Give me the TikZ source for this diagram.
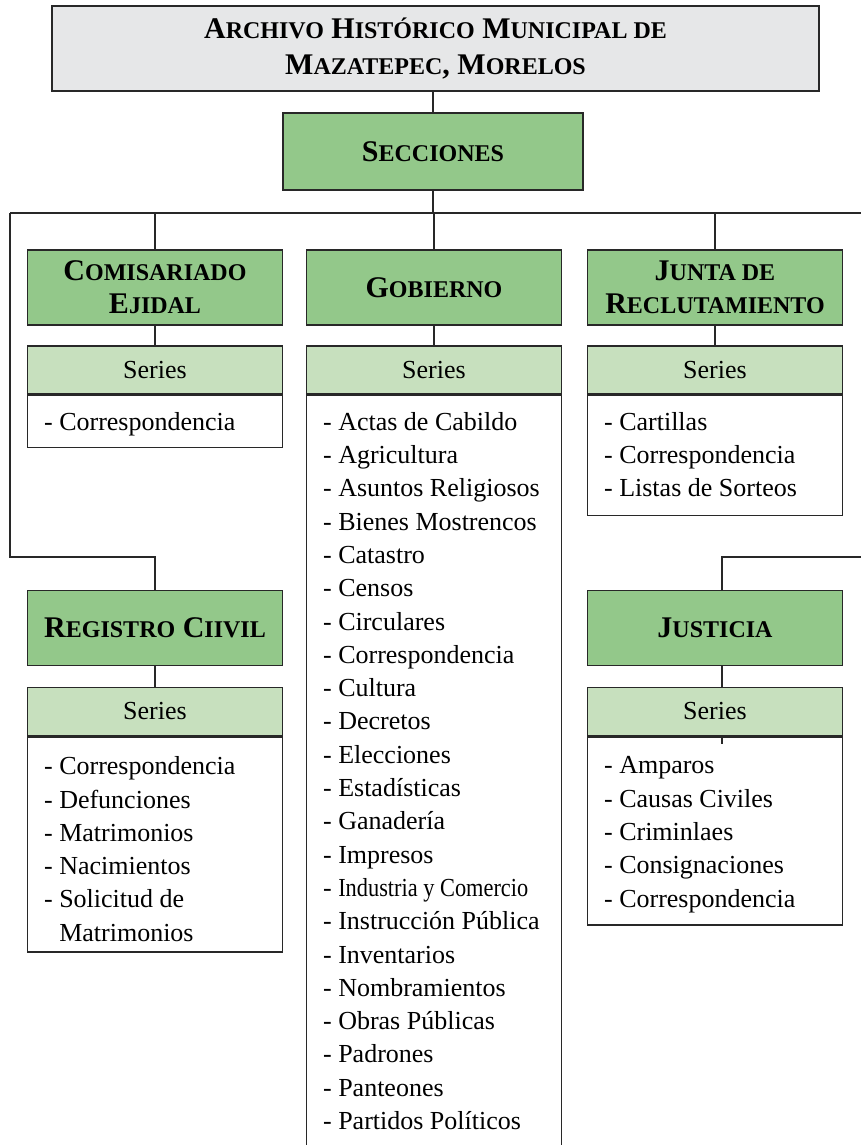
\documentclass[tikz,border=0pt]{standalone}
\usepackage{fontspec}
\setmainfont{Liberation Serif}
\usepackage{graphicx}
\usetikzlibrary{positioning}

\definecolor{titlegray}{RGB}{230,231,232}
\definecolor{secgreen}{RGB}{147,200,138}
\definecolor{sergreen}{RGB}{199,224,190}
\definecolor{linegray}{RGB}{40,40,40}

\newcommand{\sm}[1]{{\fontsize{12}{14}\selectfont #1}}

\tikzset{
  titlebox/.style={draw=linegray, line width=0.8pt, fill=titlegray, minimum width=383.5pt, minimum height=42.5pt, align=center, font=\fontsize{15}{18}\selectfont\bfseries},
  secbox/.style={draw=linegray, line width=0.8pt, fill=secgreen, minimum width=127.5pt, minimum height=37.5pt, align=center, font=\fontsize{15}{16.5}\selectfont\bfseries},
  serbox/.style={draw=linegray, line width=0.8pt, fill=sergreen, minimum width=127.5pt, minimum height=24pt, font=\fontsize{13}{16}\selectfont},
  listbox/.style={draw=linegray, line width=0.8pt, fill=white, minimum width=127.5pt, anchor=north},
  items/.style={anchor=north west, inner sep=0pt, align=left, font=\fontsize{13}{16.65}\selectfont},
  link/.style={draw=linegray, line width=0.7pt},
}

\begin{document}
\begin{tikzpicture}[x=0.5pt, y=-0.5pt]
  \useasboundingbox (0,0) rectangle (861,1145);
  \clip (0,0) rectangle (861,1145);

  \node[titlebox] (archivo) at (435.5,48.5) {\raisebox{-1.5pt}{A\sm{RCHIVO} H\sm{ISTÓRICO} M\sm{UNICIPAL DE}}\\\raisebox{-1.5pt}{M\sm{AZATEPEC}, M\sm{ORELOS}}};
  \node[secbox, minimum width=150pt, minimum height=38.5pt] (secciones) at (433,151.5) {S\sm{ECCIONES}};

  \node[secbox] (comisariado) at (155,287.5) {C\sm{OMISARIADO}\\E\sm{JIDAL}};
  \node[secbox] (gobierno) at (434,287.5) {G\sm{OBIERNO}};
  \node[secbox] (junta) at (715,287.5) {J\sm{UNTA DE}\\R\sm{ECLUTAMIENTO}};
  \node[secbox] (registro) at (155,628) {R\sm{EGISTRO} C\sm{IIVIL}};
  \node[secbox] (justicia) at (715,628) {J\sm{USTICIA}};

  \node[serbox] (comSer) at (155,370) {Series};
  \node[serbox] (gobSer) at (434,370) {Series};
  \node[serbox] (junSer) at (715,370) {Series};
  \node[serbox] (regSer) at (155,711.5) {Series};
  \node[serbox] (jusSer) at (715,711.5) {Series};

  \node[listbox, minimum height=26pt] (comList) at (comSer.south) {};
  \node[listbox, minimum height=400pt] (gobList) at (gobSer.south) {};
  \node[listbox, minimum height=60pt] (junList) at (junSer.south) {};
  \node[listbox, minimum height=107.5pt] (regList) at (regSer.south) {};
  \node[listbox, minimum height=94pt] (jusList) at (jusSer.south) {};

  \node[items] (comItems) at ([xshift=8.5pt,yshift=-8.5pt]comList.north west) {- Correspondencia};
  \node[items] (gobItems) at ([xshift=8.5pt,yshift=-8.5pt]gobList.north west) {- Actas de Cabildo\\- Agricultura\\- Asuntos Religiosos\\- Bienes Mostrencos\\- Catastro\\- Censos\\- Circulares\\- Correspondencia\\- Cultura\\- Decretos\\- Elecciones\\- Estadísticas\\- Ganadería\\- Impresos\\- \scalebox{0.86}[1]{Industria y Comercio}\\- Instrucción Pública\\- Inventarios\\- Nombramientos\\- Obras Públicas\\- Padrones\\- Panteones\\- Partidos Políticos};
  \node[items] (junItems) at ([xshift=8.5pt,yshift=-8.5pt]junList.north west) {- Cartillas\\- Correspondencia\\- Listas de Sorteos};
  \node[items] (regItems) at ([xshift=8.5pt,yshift=-10pt]regList.north west) {- Correspondencia\\- Defunciones\\- Matrimonios\\- Nacimientos\\- Solicitud de\\\phantom{- }Matrimonios};
  \node[items] (jusItems) at ([xshift=8.5pt,yshift=-10pt]jusList.north west) {- Amparos\\- Causas Civiles\\- Criminlaes\\- Consignaciones\\- Correspondencia};

  \coordinate (busL) at (10,213);
  \coordinate (busR) at (870,213);
  \coordinate (leftBend) at (10,557);
  \coordinate (rightEnd) at (870,557);
  \coordinate (jusDrop) at ([xshift=3.5pt]justicia.north);

  \draw[link] (secciones.north) -- (secciones.north |- archivo.south);
  \draw[link] (busL) -- (busR);
  \draw[link] (secciones.south) -- (secciones.south |- busL);
  \draw[link] (comisariado.north) -- (comisariado.north |- busL);
  \draw[link] (gobierno.north) -- (gobierno.north |- busL);
  \draw[link] (junta.north) -- (junta.north |- busL);
  \draw[link] (busL) -- (leftBend) -| (registro.north);
  \draw[link] (rightEnd) -| (jusDrop);

  \draw[link] (comisariado.south) -- (comSer.north);
  \draw[link] (gobierno.south) -- (gobSer.north);
  \draw[link] (junta.south) -- (junSer.north);
  \draw[link] (registro.south) -- (regSer.north);
  \draw[link] ([xshift=3.5pt]justicia.south) -- ([xshift=3.5pt]jusSer.north);
  \draw[link] ([xshift=3.5pt]jusSer.south) -- ++(0,8);
\end{tikzpicture}
\end{document}
